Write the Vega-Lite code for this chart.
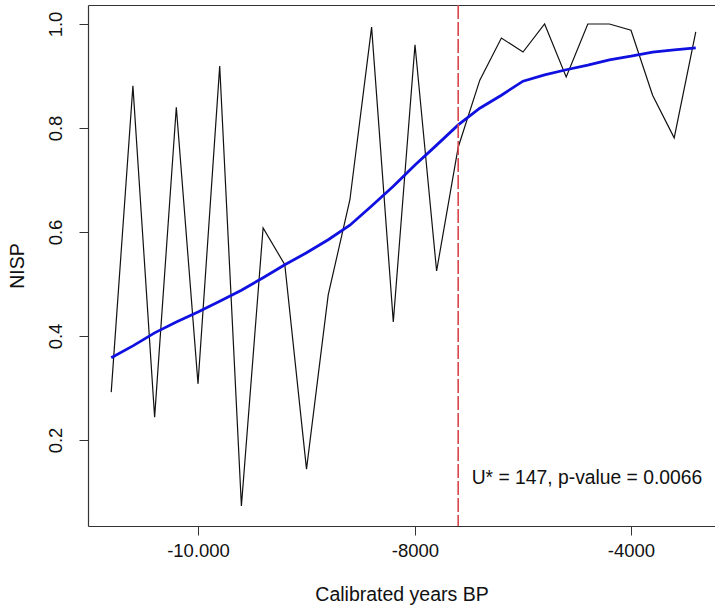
{
  "$schema": "https://vega.github.io/schema/vega-lite/v6.json",
  "width": 627,
  "height": 521,
  "autosize": {"type": "none"},
  "padding": {"left": 88, "top": 5, "right": 0, "bottom": 83},
  "config": {
    "view": {"stroke": null},
    "font": "Liberation Sans",
    "axis": {
      "labelFont": "Liberation Sans",
      "titleFont": "Liberation Sans",
      "labelFontSize": 18.5,
      "titleFontSize": 19.5,
      "titleFontWeight": "normal",
      "labelColor": "#111111",
      "titleColor": "#111111",
      "tickColor": "#333333",
      "domainColor": "#333333",
      "domainWidth": 1.2,
      "grid": false
    }
  },
  "datasets": {
    "obs": [
      {"year": -10800, "p": 0.292},
      {"year": -10600, "p": 0.881},
      {"year": -10400, "p": 0.244},
      {"year": -10200, "p": 0.840},
      {"year": -10000, "p": 0.308},
      {"year": -9800, "p": 0.919},
      {"year": -9600, "p": 0.073},
      {"year": -9400, "p": 0.608},
      {"year": -9200, "p": 0.537},
      {"year": -9000, "p": 0.144},
      {"year": -8800, "p": 0.479},
      {"year": -8600, "p": 0.662},
      {"year": -8400, "p": 0.994},
      {"year": -8200, "p": 0.427},
      {"year": -8000, "p": 0.960},
      {"year": -7600, "p": 0.525},
      {"year": -7200, "p": 0.763},
      {"year": -6800, "p": 0.892},
      {"year": -6400, "p": 0.973},
      {"year": -6000, "p": 0.946},
      {"year": -5600, "p": 1.0},
      {"year": -5200, "p": 0.898},
      {"year": -4800, "p": 1.0},
      {"year": -4400, "p": 1.0},
      {"year": -4000, "p": 0.988},
      {"year": -3600, "p": 0.863},
      {"year": -3200, "p": 0.781},
      {"year": -2800, "p": 0.985}
    ],
    "fit": [
      {"year": -10800, "p": 0.358},
      {"year": -10600, "p": 0.381},
      {"year": -10400, "p": 0.406},
      {"year": -10200, "p": 0.427},
      {"year": -10000, "p": 0.446},
      {"year": -9800, "p": 0.467},
      {"year": -9600, "p": 0.488},
      {"year": -9400, "p": 0.512},
      {"year": -9200, "p": 0.537},
      {"year": -9000, "p": 0.560},
      {"year": -8800, "p": 0.585},
      {"year": -8600, "p": 0.613},
      {"year": -8400, "p": 0.650},
      {"year": -8200, "p": 0.688},
      {"year": -8000, "p": 0.729},
      {"year": -7600, "p": 0.767},
      {"year": -7200, "p": 0.806},
      {"year": -6800, "p": 0.838},
      {"year": -6400, "p": 0.863},
      {"year": -6000, "p": 0.890},
      {"year": -5600, "p": 0.902},
      {"year": -5200, "p": 0.912},
      {"year": -4800, "p": 0.921},
      {"year": -4400, "p": 0.931},
      {"year": -4000, "p": 0.938},
      {"year": -3600, "p": 0.946},
      {"year": -3200, "p": 0.950},
      {"year": -2800, "p": 0.954}
    ],
    "marker": [
      {"year": -7200, "label": "U* = 147, p-value = 0.0066", "lx": -6950, "ly": 0.126}
    ]
  },
  "resolve": {"axis": {"x": "independent"}},
  "layer": [
    {
      "data": {"name": "obs"},
      "mark": {"type": "line", "color": "#111111", "strokeWidth": 1.2},
      "encoding": {
        "x": {
          "field": "year", "type": "quantitative",
          "scale": {"domain": [-11014, -8000, -4000, -2444], "range": [0, 327, 543, 627], "nice": false, "zero": false},
          "axis": {
            "values": [-10000, -8000, -4000],
            "labelExpr": "datum.value == -10000 ? '-10.000' : '-' + abs(datum.value)",
            "tickSize": 9, "labelPadding": 6, "titlePadding": 26,
            "title": "Calibrated years BP", "domain": true
          }
        },
        "y": {
          "field": "p", "type": "quantitative",
          "scale": {"domain": [0.0346, 1.0365], "nice": false, "zero": false},
          "axis": {
            "values": [0.2, 0.4, 0.6, 0.8, 1.0], "format": ".1f",
            "labelAngle": -90, "labelAlign": "center", "labelBaseline": "bottom",
            "tickSize": 9, "labelPadding": 14, "titlePadding": 19,
            "title": "NISP", "domain": true
          }
        }
      }
    },
    {
      "data": {"name": "fit"},
      "mark": {"type": "line", "color": "#1010e0", "strokeWidth": 2.8},
      "encoding": {
        "x": {"field": "year", "type": "quantitative", "axis": null},
        "y": {
          "field": "p", "type": "quantitative",
          "axis": {
            "values": [0.2, 0.4, 0.6, 0.8, 1.0], "format": ".1f",
            "labelAngle": -90, "labelAlign": "center", "labelBaseline": "bottom",
            "tickSize": 9, "labelPadding": 14, "titlePadding": 19,
            "title": "NISP", "domain": true
          }
        }
      }
    },
    {
      "data": {"name": "marker"},
      "mark": {"type": "rule", "color": "#d9474c", "strokeWidth": 1.6, "strokeDash": [14, 3]},
      "encoding": {
        "x": {
          "field": "year", "type": "quantitative",
          "axis": {"orient": "top", "labels": false, "ticks": false, "domain": true, "title": null}
        }
      }
    },
    {
      "data": {"name": "marker"},
      "mark": {"type": "text", "align": "left", "baseline": "middle", "fontSize": 19.3, "font": "Liberation Sans", "color": "#111111"},
      "encoding": {
        "text": {"field": "label"},
        "x": {"field": "lx", "type": "quantitative", "axis": null},
        "y": {
          "field": "ly", "type": "quantitative",
          "axis": {
            "values": [0.2, 0.4, 0.6, 0.8, 1.0], "format": ".1f",
            "labelAngle": -90, "labelAlign": "center", "labelBaseline": "bottom",
            "tickSize": 9, "labelPadding": 14, "titlePadding": 19,
            "title": "NISP", "domain": true
          }
        }
      }
    }
  ]
}
